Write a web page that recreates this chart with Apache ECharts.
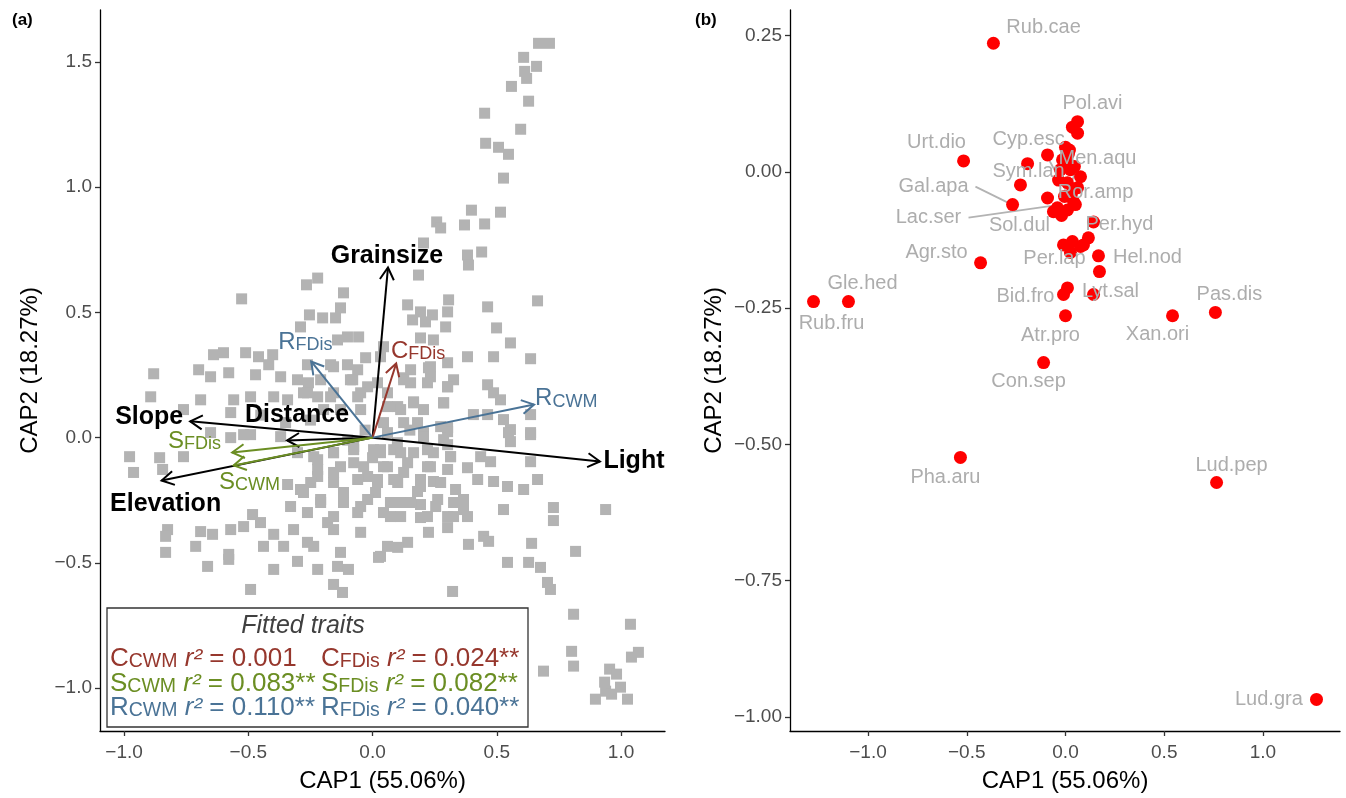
<!DOCTYPE html>
<html><head><meta charset="utf-8">
<script src="https://cdn.jsdelivr.net/npm/echarts@6/dist/echarts.min.js"></script>
<style>html,body{margin:0;padding:0;background:#fff}#c{width:1346px;height:798px}</style>
</head><body><div id="c"></div>
<script>
// ---------- Panel (a): site scores ----------
const sitePoints = [
[0.668,1.574],[0.712,1.574],[0.608,1.518],[0.660,1.482],[0.612,1.462],[0.620,1.434],[0.559,1.402],[0.628,1.343],[0.451,1.295],[0.596,1.231],[0.455,1.175],[0.507,1.159],[0.547,1.131],[0.527,1.036],[0.398,0.908],[0.515,0.900],[0.258,0.861],[0.274,0.837],[0.370,0.849],[0.451,0.853],
[-0.221,0.637],[-0.266,0.610],[-0.117,0.578],[-0.527,0.554],[-0.129,0.518],[-0.254,0.490],[-0.201,0.478],[-0.149,0.478],[-0.290,0.442],[-0.101,0.402],[-0.056,0.402],[-0.141,0.390],[-0.640,0.331],[-0.600,0.339],[-0.511,0.339],[-0.459,0.323],[-0.402,0.331],[-0.028,0.319],[-0.418,0.291],[-0.262,0.291],[-0.169,0.291],[-0.101,0.291],[-0.881,0.255],[-0.700,0.271],[-0.652,0.243],[-0.579,0.259],[-0.471,0.251],[-0.370,0.243],[-0.302,0.231],[-0.258,0.219],[-0.080,0.231],[-0.893,0.163],[-0.692,0.151],[-0.559,0.151],[-0.491,0.163],[-0.398,0.163],[-0.342,0.151],[-0.278,0.179],[-0.221,0.163],[-0.157,0.179],[-0.060,0.163],[-0.020,0.203],[-0.761,0.112],[-0.571,0.100],[-0.197,0.112],[-0.129,0.112],[-0.652,0.020],[-0.519,0.012],
[0.205,0.777],[0.382,0.729],[0.439,0.741],[0.386,0.689],[0.185,0.649],[0.664,0.546],[0.141,0.530],[0.306,0.550],[0.463,0.522],[0.193,0.502],[0.241,0.490],[0.302,0.502],[0.161,0.470],[0.213,0.462],[0.294,0.442],[0.499,0.438],[0.555,0.378],[0.193,0.398],[0.245,0.390],[0.044,0.363],[0.382,0.323],[0.487,0.323],[0.636,0.315],[0.032,0.323],[0.225,0.279],[0.125,0.239],[0.153,0.219],[0.233,0.243],[0.326,0.231],[0.302,0.203],[0.463,0.211],[0.487,0.179],[0.515,0.151],[0.165,0.139],[0.286,0.139],[0.101,0.124],[0.406,0.092],[0.463,0.092],[0.527,0.072],[0.636,0.092],[0.125,0.060],[0.302,0.040],[0.555,0.032],[0.636,0.020],[0.205,0.020],
[-0.978,-0.076],[-0.962,-0.139],[-0.857,-0.080],[-0.845,-0.127],[-0.761,-0.076],[-0.571,0.000],[-0.491,0.012],[-0.370,0.004],[-0.302,-0.060],[-0.221,-0.088],[-0.157,-0.060],[-0.076,-0.048],[0.004,-0.048],[-0.221,-0.155],[-0.157,-0.139],[-0.076,-0.100],[-0.020,-0.155],[-0.278,-0.219],[-0.209,-0.259],[-0.117,-0.219],[-0.048,-0.275],[-0.330,-0.275],[-0.483,-0.307],[-0.451,-0.339],[-0.519,-0.355],[-0.571,-0.367],[-0.825,-0.367],[-0.833,-0.394],[-0.692,-0.375],[-0.644,-0.386],[-0.398,-0.386],[-0.318,-0.367],[-0.262,-0.418],[-0.181,-0.339],[-0.157,-0.367],[-0.048,-0.378],[-0.439,-0.434],[-0.358,-0.434],[-0.237,-0.434],[-0.833,-0.458],[-0.712,-0.434],[-0.579,-0.466],[-0.129,-0.458],[0.032,-0.474],[-0.302,-0.494],[-0.221,-0.526],[-0.141,-0.514],[-0.097,-0.526],[-0.398,-0.526],[-0.664,-0.514],[-0.157,-0.586],[-0.121,-0.618],[-0.491,-0.606],[-0.342,-0.187],[-0.290,-0.207],[-0.579,-0.486],
[0.205,0.012],[0.302,0.024],[0.302,-0.028],[0.547,0.020],[0.555,-0.016],[0.636,0.012],[0.032,-0.060],[0.085,-0.048],[0.165,-0.060],[0.245,-0.060],[0.314,-0.076],[0.435,-0.076],[0.475,-0.096],[0.636,-0.096],[0.044,-0.116],[0.125,-0.139],[0.233,-0.116],[0.382,-0.120],[0.020,-0.167],[0.085,-0.167],[0.193,-0.167],[0.245,-0.175],[0.423,-0.167],[0.487,-0.175],[0.543,-0.195],[0.608,-0.207],[0.664,-0.167],[0.012,-0.219],[0.181,-0.215],[0.334,-0.207],[0.113,-0.259],[0.193,-0.267],[0.254,-0.275],[0.366,-0.247],[0.366,-0.287],[0.527,-0.287],[0.728,-0.279],[0.938,-0.287],[0.072,-0.315],[0.193,-0.319],[0.326,-0.315],[0.382,-0.315],[0.728,-0.331],[0.225,-0.378],[0.302,-0.359],[0.447,-0.394],[0.467,-0.414],[0.386,-0.426],[0.640,-0.422],[0.060,-0.434],[0.141,-0.418],[0.101,-0.438],[0.024,-0.478],[0.543,-0.498],[0.628,-0.498],[0.676,-0.518],[0.817,-0.454],[0.704,-0.578],[0.716,-0.606],[0.322,-0.614],
[0.809,-0.705],[1.038,-0.745],[0.801,-0.853],[0.809,-0.912],[0.688,-0.932],[1.042,-0.876],[1.070,-0.857],[0.954,-0.924],[0.982,-0.944],[0.934,-0.976],[0.938,-1.012],[0.897,-1.044],[0.962,-1.024],[1.026,-1.044],[0.998,-0.996],
[-0.157,0.283],[-0.060,0.271],[0.153,0.271],[0.233,0.283],[0.302,0.299],[-0.209,0.231],[-0.089,0.231],[0.020,0.219],[0.125,0.231],[0.221,0.219],[0.302,0.203],[-0.262,0.179],[-0.169,0.163],[-0.048,0.179],[0.060,0.179],[0.165,0.143],[0.286,0.139],[-0.048,0.112],[0.060,0.124],[0.113,0.112],[0.205,0.112],[0.044,0.060],[0.181,0.060],[0.274,0.044],[0.205,0.004],[0.286,-0.008],
[-0.237,-0.076],[-0.157,-0.060],[-0.076,-0.036],[0.032,-0.048],[0.113,-0.060],[0.221,-0.048],[0.314,-0.076],[-0.221,-0.127],[-0.129,-0.116],[-0.036,-0.116],[0.060,-0.116],[0.141,-0.100],[0.221,-0.116],[0.302,-0.127],[-0.249,-0.179],[-0.157,-0.179],[-0.060,-0.167],[0.020,-0.179],[0.101,-0.179],[0.193,-0.195],[0.274,-0.179],[-0.209,-0.247],[-0.117,-0.259],[-0.020,-0.247],[0.072,-0.259],[0.153,-0.259],[0.262,-0.247],[0.326,-0.259],[-0.262,-0.299],[-0.157,-0.315],[-0.060,-0.299],[0.044,-0.299],[0.113,-0.315],[0.221,-0.315],[0.302,-0.315],
[-0.030,0.030],[0.060,0.020],[-0.100,-0.010],[0.100,-0.020],[0.000,-0.080],[0.150,0.030],[-0.350,0.060],[-0.250,0.070],[-0.450,0.090]
];

// environmental vectors
const envNames  = ['Grainsize','Light','Slope','Distance','Elevation'];
const envX      = [0.062, 0.915, -0.734, -0.344, -0.849];
const envY      = [0.679, -0.095, 0.065, -0.011, -0.171];
const envLabelX = [0.058, 1.052, -0.899, -0.304, -0.833];
const envLabelY = [0.726, -0.095, 0.080, 0.088, -0.266];

// fitted trait vectors
const traitLetter = ['R','C','R','S','S'];
const traitIndex  = ['FDis','FDis','CWM','FDis','CWM'];
const traitX      = [-0.247, 0.095, 0.650, -0.565, -0.559];
const traitY      = [0.304, 0.296, 0.132, -0.059, -0.111];
const traitLabelX = [-0.380, 0.074, 0.654, -0.823, -0.618];
const traitLabelY = [0.380, 0.344, 0.156, -0.015, -0.179];

// fitted trait statistics (legend)
const fitLetters = ['C','S','R'];
const fitCWM     = ['0.001','0.083','0.110'];
const fitCWMsig  = ['','**','**'];
const fitFDis    = ['0.024','0.082','0.040'];
const fitFDisSig = ['**','**','**'];

// ---------- Panel (b): species scores ----------
const speciesX = [-0.365,-0.516,-0.192,-0.228,-0.268,-0.091,0.061,0.035,0.061,0.015,-0.015,0.010,-0.025,0.025,0.076,-0.035,0.010,0.061,-0.091,0.041,-0.041,0.010,-0.061,0.142,0.116,-0.010,0.035,0.076,0.091,0.025,0.167,-0.430,0.172,0.010,-0.010,0.142,0.000,0.542,0.759,-0.111,-1.099,-1.276,-0.532,0.765,1.271,0.000,0.020,0.045,-0.005,0.030,0.050,-0.020];
const speciesY = [0.236,0.020,0.015,-0.024,-0.060,0.031,0.092,0.082,0.071,0.033,0.022,0.016,0.004,0.004,-0.009,-0.015,-0.020,-0.029,-0.048,-0.055,-0.066,-0.070,-0.073,-0.092,-0.121,-0.134,-0.128,-0.137,-0.134,-0.148,-0.154,-0.167,-0.183,-0.213,-0.225,-0.225,-0.264,-0.264,-0.258,-0.350,-0.238,-0.238,-0.524,-0.570,-0.968,0.045,0.040,0.010,-0.045,-0.040,-0.060,-0.080];

const speciesLabels = ['Rub.cae','Pol.avi','Urt.dio','Cyp.esc','Men.aqu','Gal.apa','Sym.lan','Ror.amp','Lac.ser','Sol.dul','Per.hyd','Agr.sto','Per.lap','Hel.nod','Gle.hed','Bid.fro','Lyt.sal','Pas.dis','Rub.fru','Atr.pro','Xan.ori','Con.sep','Pha.aru','Lud.pep','Lud.gra'];
const speciesLabelX = [-0.111,0.137,-0.653,-0.187,0.162,-0.668,-0.187,0.152,-0.694,-0.233,0.273,-0.653,-0.056,0.415,-1.028,-0.203,0.228,0.830,-1.185,-0.076,0.466,-0.187,-0.608,0.841,1.030];
const speciesLabelY = [0.264,0.125,0.053,0.059,0.024,-0.026,0.000,-0.037,-0.084,-0.099,-0.097,-0.148,-0.159,-0.158,-0.205,-0.229,-0.220,-0.225,-0.279,-0.301,-0.299,-0.385,-0.561,-0.539,-0.968];

// leader segments (from label edge to point)
const segFrom = [[-0.111,0.040],[0.066,0.018],[-0.456,-0.027],[-0.491,-0.084]];
const segTo   = [[0.000,-0.033],[0.015,-0.037],[-0.289,-0.057],[-0.061,-0.062]];

// ---------- drawing ----------
const FONT = '"Liberation Sans", Arial, Helvetica, sans-serif';
const traitColors = {C:'#96372d', S:'#6b8e23', R:'#4a7396'};
const chart = echarts.init(document.getElementById('c'));

function arrowRender(colorFn, lw){
  return function(params, api){
    const i = api.value(2);
    const col = colorFn(i);
    const p0 = api.coord([0,0]);
    const p1 = api.coord([api.value(0), api.value(1)]);
    const ang = Math.atan2(p1[1]-p0[1], p1[0]-p0[0]);
    const L = 14, a = Math.PI/6;
    const h1 = [p1[0]-L*Math.cos(ang-a), p1[1]-L*Math.sin(ang-a)];
    const h2 = [p1[0]-L*Math.cos(ang+a), p1[1]-L*Math.sin(ang+a)];
    return {type:'group', children:[
      {type:'line', shape:{x1:p0[0],y1:p0[1],x2:p1[0],y2:p1[1]}, style:{stroke:col,lineWidth:lw}},
      {type:'polyline', shape:{points:[h1,p1,h2]}, style:{stroke:col,lineWidth:lw,fill:null,lineJoin:'miter'}}
    ]};
  };
}

const fmt = (dec)=>(v)=>Number(v).toFixed(dec).replace('-', '\u2212');

function axisBase(){
  return {
    type:'value', splitLine:{show:false},
    axisLine:{show:true, onZero:false, lineStyle:{color:'#000', width:1.3}},
    axisTick:{show:true, length:5, lineStyle:{color:'#333', width:1.3}},
    axisLabel:{color:'#4d4d4d', fontSize:19, fontFamily:FONT},
    nameLocation:'middle',
    nameTextStyle:{color:'#000', fontSize:24, fontFamily:FONT}
  };
}
function xAxisOf(gi, min, max, ticks, dec, name){
  const a = axisBase();
  Object.assign(a, {gridIndex:gi, min, max, name, nameGap:38});
  a.axisLabel = Object.assign(a.axisLabel, {customValues:ticks, margin:12, formatter:fmt(dec)});
  a.axisTick = Object.assign(a.axisTick, {customValues:ticks});
  return a;
}
function yAxisOf(gi, min, max, ticks, dec, name, gap){
  const a = axisBase();
  Object.assign(a, {gridIndex:gi, min, max, name, nameGap:gap});
  a.axisLabel = Object.assign(a.axisLabel, {customValues:ticks, margin:8, formatter:fmt(dec)});
  a.axisTick = Object.assign(a.axisTick, {customValues:ticks});
  return a;
}

const subRich = (col)=>({
  b:{fontSize:24, lineHeight:24, verticalAlign:'top', color:col, fontFamily:FONT},
  s:{fontSize:18, lineHeight:10, verticalAlign:'bottom', color:col, fontFamily:FONT}
});

// legend rows
const legendChildren = [
  {type:'rect', shape:{x:107, y:608, width:421, height:119}, style:{fill:'#fff', stroke:'#333', lineWidth:1.3}},
  {type:'text', style:{x:303, y:626, text:'Fitted traits', fill:'#404040', font:'italic 25px '+FONT, align:'center', verticalAlign:'middle'}}
];
const legRich = (col)=>({
  b:{fontSize:26, lineHeight:26, verticalAlign:'top', fill:col, fontFamily:FONT},
  s:{fontSize:19.5, lineHeight:10, verticalAlign:'bottom', fill:col, fontFamily:FONT},
  i:{fontSize:26, lineHeight:26, verticalAlign:'top', fill:col, fontFamily:FONT, fontStyle:'italic'}
});
fitLetters.forEach((L,k)=>{
  const col = traitColors[L];
  const y = 659 + k*24.5;
  legendChildren.push({type:'text', style:{x:110, y, text:`{b|${L}}{s|CWM}{b| }{i|r²}{b| = ${fitCWM[k]}${fitCWMsig[k]}}`, rich:legRich(col), align:'left', verticalAlign:'middle', fill:col}});
  legendChildren.push({type:'text', style:{x:321, y, text:`{b|${L}}{s|FDis}{b| }{i|r²}{b| = ${fitFDis[k]}${fitFDisSig[k]}}`, rich:legRich(col), align:'left', verticalAlign:'middle', fill:col}});
});

const option = {
  animation:false,
  backgroundColor:'#fff',
  grid:[
    {left:100, top:10, width:565, height:722},
    {left:790, top:10, width:550, height:722}
  ],
  xAxis:[
    xAxisOf(0, -1.097, 1.177, [-1,-0.5,0,0.5,1], 1, 'CAP1 (55.06%)'),
    xAxisOf(1, -1.395, 1.390, [-1,-0.5,0,0.5,1], 1, 'CAP1 (55.06%)')
  ],
  yAxis:[
    yAxisOf(0, -1.171, 1.707, [-1,-0.5,0,0.5,1,1.5], 1, 'CAP2 (18.27%)', 58),
    yAxisOf(1, -1.026, 0.297, [-1,-0.75,-0.5,-0.25,0,0.25], 2, 'CAP2 (18.27%)', 64)
  ],
  graphic:[
    {type:'text', left:12, top:12, z:100, style:{text:'(a)', font:'bold 17px '+FONT, fill:'#000'}},
    {type:'text', left:695, top:12, z:100, style:{text:'(b)', font:'bold 17px '+FONT, fill:'#000'}},
    {type:'group', left:0, top:0, z:100, bounding:'raw', children:legendChildren}
  ],
  series:[
    {type:'scatter', xAxisIndex:0, yAxisIndex:0, symbol:'rect', symbolSize:11, silent:true, z:1,
     itemStyle:{color:'#b3b3b3', opacity:1}, data:sitePoints},
    {type:'custom', xAxisIndex:0, yAxisIndex:0, z:3, silent:true,
     renderItem:arrowRender(()=>'#000', 2), encode:{x:0,y:1},
     data:envX.map((x,i)=>[x, envY[i], i])},
    {type:'custom', xAxisIndex:0, yAxisIndex:0, z:4, silent:true,
     renderItem:arrowRender(i=>traitColors[traitLetter[i]], 2), encode:{x:0,y:1},
     data:traitX.map((x,i)=>[x, traitY[i], i])},
    {type:'scatter', xAxisIndex:0, yAxisIndex:0, symbolSize:0, z:5, silent:true,
     itemStyle:{opacity:1},
     label:{show:true, position:'inside', color:'#000', opacity:1, fontSize:25, fontWeight:'bold', fontFamily:FONT,
            formatter:p=>envNames[p.dataIndex]},
     data:envLabelX.map((x,i)=>[x, envLabelY[i]])},
    {type:'scatter', xAxisIndex:0, yAxisIndex:0, symbolSize:0, z:5, silent:true,
     itemStyle:{opacity:1},
     label:{show:true, position:'right', distance:0, opacity:1, formatter:p=>`{b|${traitLetter[p.dataIndex]}}{s|${traitIndex[p.dataIndex]}}`},
     data:traitLabelX.map((x,i)=>({value:[x, traitLabelY[i]], label:{rich:subRich(traitColors[traitLetter[i]])}}))},
    {type:'lines', coordinateSystem:'cartesian2d', xAxisIndex:1, yAxisIndex:1, z:2, silent:true,
     lineStyle:{color:'#b3b3b3', width:1.8, opacity:1},
     data:segFrom.map((f,i)=>({coords:[f, segTo[i]]}))},
    {type:'scatter', xAxisIndex:1, yAxisIndex:1, symbol:'circle', symbolSize:13, z:3, silent:true,
     itemStyle:{color:'#ff0000', opacity:1}, data:speciesX.map((x,i)=>[x, speciesY[i]])},
    {type:'scatter', xAxisIndex:1, yAxisIndex:1, symbolSize:0, z:5, silent:true,
     itemStyle:{opacity:1},
     label:{show:true, position:'inside', color:'#adadad', opacity:1, fontSize:20, fontFamily:FONT,
            formatter:p=>speciesLabels[p.dataIndex]},
     data:speciesLabelX.map((x,i)=>[x, speciesLabelY[i]])}
  ]
};
chart.setOption(option);
</script>
</body></html>
